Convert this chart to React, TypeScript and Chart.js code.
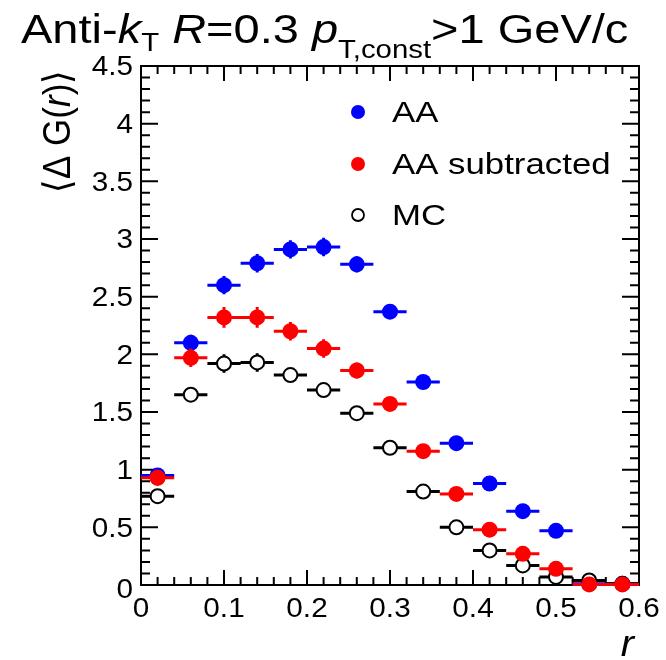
import React, { useEffect, useRef } from "react";
import { Chart, registerables } from "chart.js";

Chart.register(...registerables);

// ---- data ----
const rCenters = [0.02, 0.06, 0.1, 0.14, 0.18, 0.22, 0.26, 0.3, 0.34, 0.38, 0.42, 0.46, 0.5, 0.54, 0.58];
const binHalfWidth = 0.02;
const aaValues = [0.95, 2.1, 2.6, 2.79, 2.91, 2.93, 2.78, 2.37, 1.76, 1.23, 0.88, 0.64, 0.47, 0.01, 0.01];
const aaErrors = [0.06, 0.07, 0.08, 0.08, 0.08, 0.08, 0.07, 0.06, 0.05, 0.04, 0.04, 0.03, 0.03, 0.01, 0.01];
const aaSubValues = [0.93, 1.97, 2.32, 2.32, 2.2, 2.05, 1.86, 1.57, 1.16, 0.79, 0.48, 0.27, 0.14, 0.005, 0.005];
const aaSubErrors = [0.07, 0.08, 0.09, 0.09, 0.08, 0.08, 0.07, 0.06, 0.05, 0.04, 0.04, 0.03, 0.03, 0.01, 0.01];
const mcValues = [0.77, 1.65, 1.92, 1.93, 1.82, 1.69, 1.49, 1.19, 0.81, 0.5, 0.3, 0.17, 0.07, 0.04, 0.01];
const mcErrors = [0.02, 0.04, 0.08, 0.08, 0.04, 0.03, 0.03, 0.02, 0.02, 0.02, 0.01, 0.01, 0.01, 0.01, 0.01];
const xTickLabels = ["0", "0.1", "0.2", "0.3", "0.4", "0.5", "0.6"];
const yTickLabels = ["0", "0.5", "1", "1.5", "2", "2.5", "3", "3.5", "4", "4.5"];
const seriesNames = ["AA", "AA subtracted", "MC"];

const FONT = '"Liberation Sans", Arial, Helvetica, sans-serif';
const SX = 1.175;

type Piece = { t: string; size: number; italic?: boolean; dy?: number };

function fontOf(p: Piece) {
  return `${p.italic ? "italic " : ""}${p.size}px ${FONT}`;
}

function drawRich(ctx: CanvasRenderingContext2D, pieces: Piece[], x: number, y: number, sx: number) {
  let cx = x;
  for (const p of pieces) {
    ctx.save();
    ctx.font = fontOf(p);
    ctx.textAlign = "left";
    ctx.textBaseline = "alphabetic";
    ctx.translate(cx, y + (p.dy || 0));
    ctx.scale(sx, 1);
    ctx.fillText(p.t, 0, 0);
    const w = ctx.measureText(p.t).width * sx;
    ctx.restore();
    cx += w;
  }
}

function drawStretched(
  ctx: CanvasRenderingContext2D,
  text: string,
  x: number,
  y: number,
  font: string,
  align: CanvasTextAlign,
  baseline: CanvasTextBaseline,
  sx: number
) {
  ctx.save();
  ctx.font = font;
  ctx.textAlign = align;
  ctx.textBaseline = baseline;
  ctx.translate(x, y);
  ctx.scale(sx, 1);
  ctx.fillText(text, 0, 0);
  ctx.restore();
}

const errorStyle: Record<string, { color: string; errors: number[] }> = {
  AA: { color: "#0000ff", errors: aaErrors },
  "AA subtracted": { color: "#ff0000", errors: aaSubErrors },
  MC: { color: "#000000", errors: mcErrors },
};

const rootPlugin = {
  id: "rootStyle",
  beforeDatasetsDraw(chart: any) {
    const { ctx, chartArea, scales } = chart;
    const { left, right, top, bottom } = chartArea;
    const x = scales.x;
    const y = scales.y;
    ctx.save();
    ctx.strokeStyle = "#000";
    ctx.lineWidth = 2;
    ctx.strokeRect(left, top, right - left, bottom - top);
    ctx.beginPath();
    for (let i = 0; i <= 30; i++) {
      const px = x.getPixelForValue(i * 0.02);
      const len = i % 5 === 0 ? 15 : 8;
      ctx.moveTo(px, bottom);
      ctx.lineTo(px, bottom - len);
      ctx.moveTo(px, top);
      ctx.lineTo(px, top + len);
    }
    for (let i = 0; i <= 45; i++) {
      const py = y.getPixelForValue(i * 0.1);
      const len = i % 5 === 0 ? 17 : 9;
      ctx.moveTo(left, py);
      ctx.lineTo(left + len, py);
      ctx.moveTo(right, py);
      ctx.lineTo(right - len, py);
    }
    ctx.stroke();
    ctx.restore();

    // tick labels
    ctx.save();
    ctx.fillStyle = "#000";
    const tf = `27px ${FONT}`;
    for (const lab of xTickLabels) {
      const px = x.getPixelForValue(Number(lab));
      drawStretched(ctx, lab, px, bottom + 32, tf, "center", "alphabetic", 1.1);
    }
    for (const lab of yTickLabels) {
      const v = Number(lab);
      const py = y.getPixelForValue(v) + (v === 0 ? 6 : 2);
      drawStretched(ctx, lab, left - 8, py, tf, "right", "middle", 1.1);
    }
    ctx.restore();

    // title
    ctx.save();
    ctx.fillStyle = "#000";
    drawRich(
      ctx,
      [
        { t: "Anti-", size: 40 },
        { t: "k", size: 40, italic: true },
        { t: "T", size: 25, dy: 8 },
        { t: " ", size: 40 },
        { t: "R", size: 40, italic: true },
        { t: "=0.3 ", size: 40 },
        { t: "p", size: 40, italic: true },
        { t: "T,const", size: 25, dy: 15 },
        { t: ">1 GeV/c", size: 40 },
      ],
      21,
      43,
      SX
    );
    ctx.restore();

    // y title (rotated)
    ctx.save();
    ctx.fillStyle = "#000";
    ctx.translate(70, 193);
    ctx.scale(1.1, 1);
    ctx.rotate(-Math.PI / 2);
    drawRich(
      ctx,
      [
        { t: "\u27E8\u0394 G(", size: 35 },
        { t: "r", size: 35, italic: true },
        { t: ")\u27E9", size: 35 },
      ],
      0,
      0,
      1
    );
    ctx.restore();

    // x title
    ctx.save();
    ctx.fillStyle = "#000";
    drawStretched(ctx, "r", 634, 656, `italic 36px ${FONT}`, "right", "alphabetic", 1.1);
    ctx.restore();
  },
  beforeDatasetDraw(chart: any, args: any) {
    const { ctx, scales } = chart;
    const ds = chart.data.datasets[args.index];
    const st = errorStyle[ds.label];
    if (!st) return;
    const x = scales.x;
    const y = scales.y;
    ctx.save();
    ctx.strokeStyle = st.color;
    ctx.lineWidth = 3;
    ctx.lineCap = "butt";
    ctx.beginPath();
    ds.data.forEach((p: any, i: number) => {
      const cy = y.getPixelForValue(p.y);
      const cx = x.getPixelForValue(p.x);
      ctx.moveTo(x.getPixelForValue(p.x - binHalfWidth), cy);
      ctx.lineTo(x.getPixelForValue(p.x + binHalfWidth), cy);
      const e = st.errors[i];
      ctx.moveTo(cx, y.getPixelForValue(p.y - e));
      ctx.lineTo(cx, y.getPixelForValue(p.y + e));
    });
    ctx.stroke();
    ctx.restore();
  },
  afterDraw(chart: any) {
    const { ctx } = chart;
    const rows = [
      { name: seriesNames[0], y: 112, fill: "#0000ff", stroke: "#0000ff", r: 7, lw: 0 },
      { name: seriesNames[1], y: 164, fill: "#ff0000", stroke: "#ff0000", r: 7, lw: 0 },
      { name: seriesNames[2], y: 215, fill: "#ffffff", stroke: "#000000", r: 6, lw: 1.8 },
    ];
    ctx.save();
    for (const row of rows) {
      ctx.beginPath();
      ctx.arc(358, row.y, row.r, 0, Math.PI * 2);
      ctx.fillStyle = row.fill;
      ctx.fill();
      if (row.lw > 0) {
        ctx.lineWidth = row.lw;
        ctx.strokeStyle = row.stroke;
        ctx.stroke();
      }
      ctx.fillStyle = "#000";
      drawStretched(ctx, row.name, 392, row.y + 10, `29px ${FONT}`, "left", "alphabetic", 1.2);
    }
    ctx.restore();
  },
};

export default function App() {
  const canvasRef = useRef<HTMLCanvasElement | null>(null);

  useEffect(() => {
    document.body.style.margin = "0";
    document.body.style.overflow = "hidden";
    const canvas = canvasRef.current;
    if (!canvas) return;
    const mk = (vals: number[]) => rCenters.map((x, i) => ({ x, y: vals[i] }));
    const chart = new Chart(canvas, {
      type: "scatter",
      data: {
        datasets: [
          {
            label: seriesNames[0],
            data: mk(aaValues),
            order: 3,
            pointRadius: 8,
            pointBackgroundColor: "#0000ff",
            pointBorderColor: "#0000ff",
            pointBorderWidth: 0,
            showLine: false,
            clip: false as any,
          },
          {
            label: seriesNames[1],
            data: mk(aaSubValues),
            order: 1,
            pointRadius: 8,
            pointBackgroundColor: "#ff0000",
            pointBorderColor: "#ff0000",
            pointBorderWidth: 0,
            showLine: false,
            clip: false as any,
          },
          {
            label: seriesNames[2],
            data: mk(mcValues),
            order: 2,
            pointRadius: 7,
            pointBackgroundColor: "#ffffff",
            pointBorderColor: "#000000",
            pointBorderWidth: 2,
            showLine: false,
            clip: false as any,
          },
        ],
      },
      options: {
        responsive: false,
        animation: false,
        devicePixelRatio: 1,
        events: [],
        layout: { padding: { left: 141, top: 66, right: 27, bottom: 75 } },
        plugins: {
          legend: { display: false },
          tooltip: { enabled: false },
          title: { display: false },
        },
        scales: {
          x: { type: "linear", min: 0, max: 0.6, display: false },
          y: { type: "linear", min: 0, max: 4.5, display: false },
        },
      },
      plugins: [rootPlugin],
    });
    return () => chart.destroy();
  }, []);

  return (
    <div style={{ width: 666, height: 660, background: "#fff" }}>
      <canvas ref={canvasRef} width={666} height={660} style={{ display: "block" }} />
    </div>
  );
}
